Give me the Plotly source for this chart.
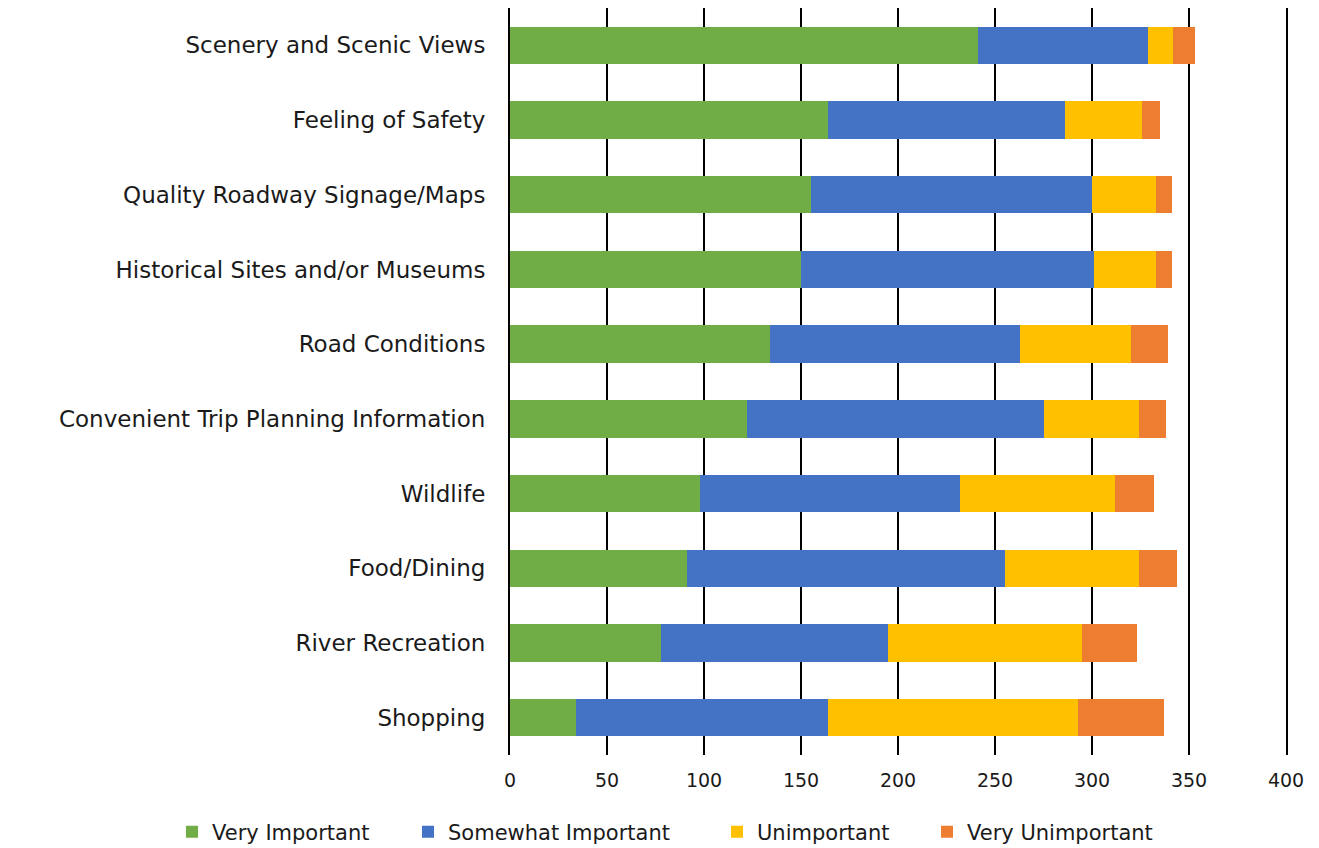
import plotly.graph_objects as go

categories = ["Scenery and Scenic Views", "Feeling of Safety", "Quality Roadway Signage/Maps",
              "Historical Sites and/or Museums", "Road Conditions", "Convenient Trip Planning Information",
              "Wildlife", "Food/Dining", "River Recreation", "Shopping"]
very_important = [241, 164, 155, 150, 134, 122, 98, 91, 78, 34]
somewhat_important = [88, 122, 145, 151, 129, 153, 134, 164, 117, 130]
unimportant = [13, 40, 33, 32, 57, 49, 80, 69, 100, 129]
very_unimportant = [11, 9, 8, 8, 19, 14, 20, 20, 28, 44]
tick_vals = [0, 50, 100, 150, 200, 250, 300, 350, 400]

series = [
    ("Very Important", very_important, "#70AD47"),
    ("Somewhat Important", somewhat_important, "#4472C4"),
    ("Unimportant", unimportant, "#FFC000"),
    ("Very Unimportant", very_unimportant, "#ED7D31"),
]

W, H = 1319, 848
FONT = "DejaVu Sans"
legend_px = [164, 400, 709, 919]

fig = go.Figure()
legend_layout = {}
for i, (name, vals, color) in enumerate(series):
    lname = "legend" if i == 0 else f"legend{i+1}"
    fig.add_trace(go.Bar(y=categories, x=vals, name=name, orientation="h", legend=lname,
                         showlegend=True,
                         marker=dict(color=color, line=dict(width=0))))
    legend_layout[lname] = dict(xref="container", yref="container", x=legend_px[i] / W,
                                y=(H - 824) / H, xanchor="left", yanchor="middle",
                                font=dict(size=21, family=FONT, color="#1a1a1a"),
                                itemwidth=30, bgcolor="rgba(0,0,0,0)", visible=True)

fig.update_layout(
    barmode="stack", bargap=0.5,
    width=W, height=H, showlegend=True,
    margin=dict(l=502, r=41, t=0, b=101, autoexpand=False),
    paper_bgcolor="white", plot_bgcolor="white",
    font=dict(family=FONT, size=22, color="#1a1a1a"),
    xaxis=dict(range=[0, 400], tickvals=tick_vals, showgrid=True, gridcolor="black",
               gridwidth=2, zeroline=False, showline=False, ticks="", automargin=False,
               tickfont=dict(size=19, family=FONT), ticklabelstandoff=12),
    yaxis=dict(autorange="reversed", showgrid=False, ticks="", showline=True, mirror=True,
               linecolor="black", linewidth=2, automargin=False,
               tickfont=dict(size=23, family=FONT), ticklabelstandoff=18),
    **legend_layout,
)
fig.write_html("out.html")
